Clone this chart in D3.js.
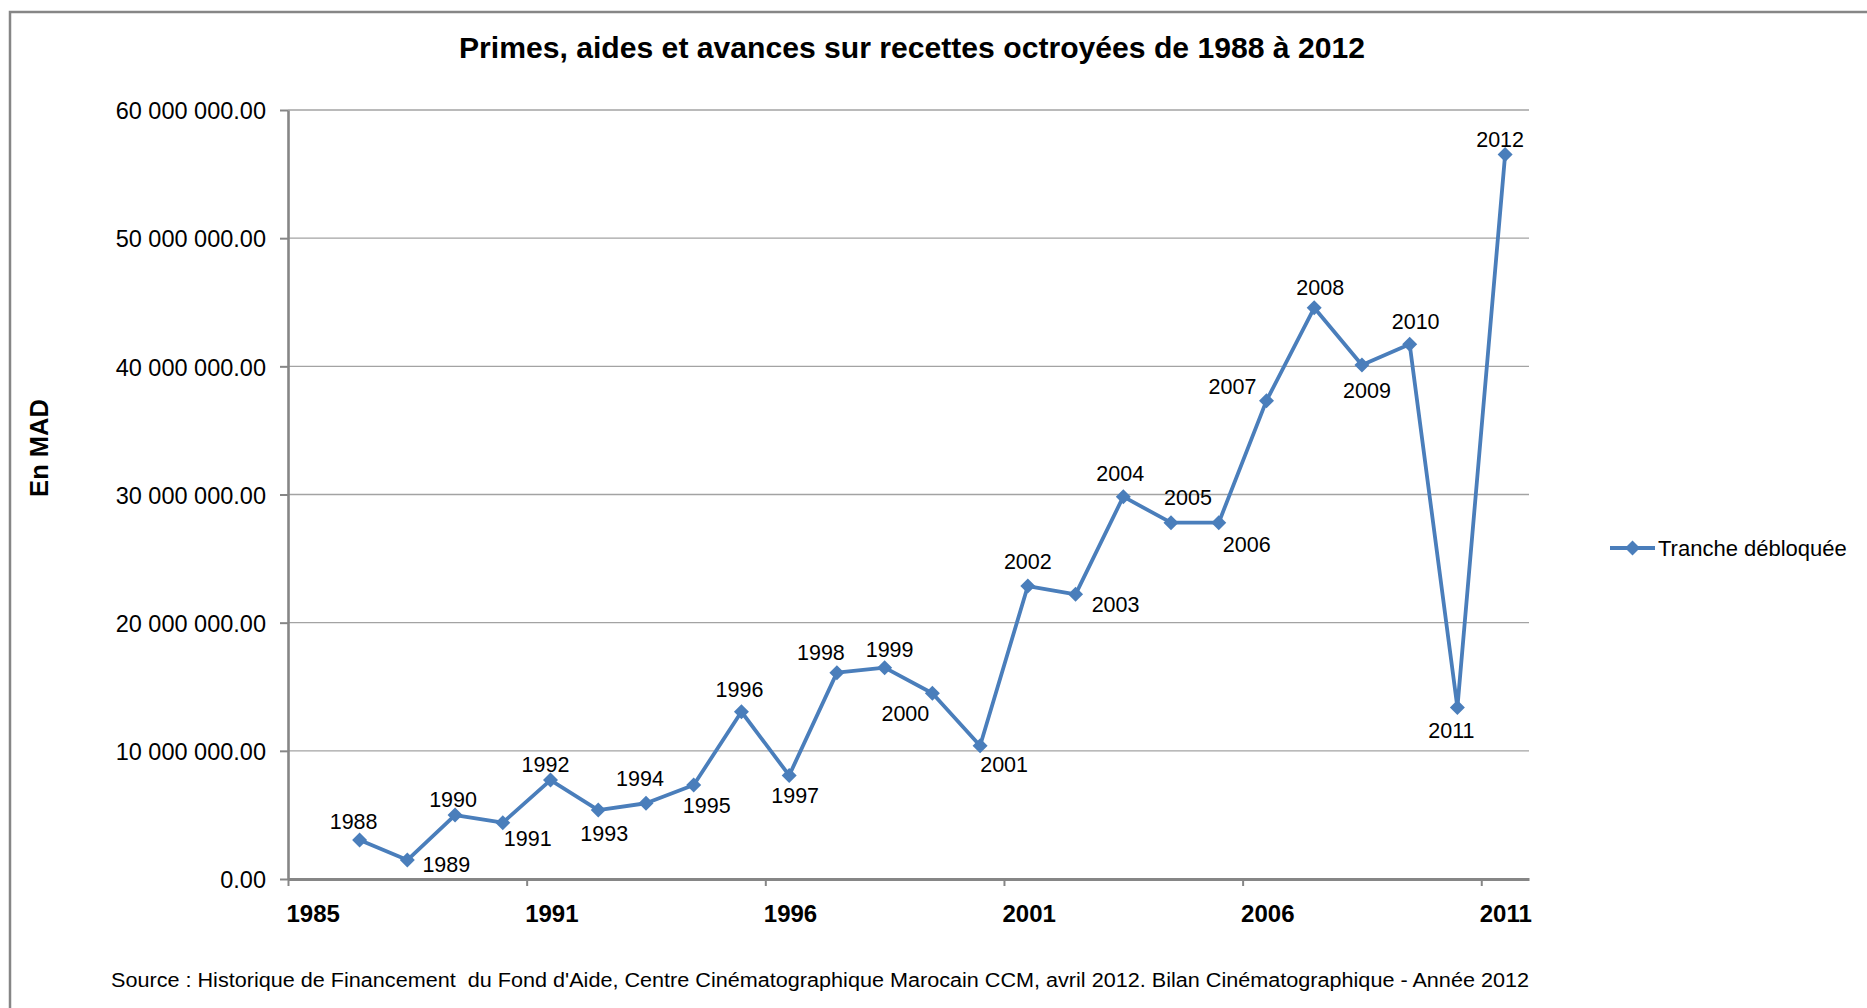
<!DOCTYPE html>
<html>
<head>
<meta charset="utf-8">
<script src="https://cdn.jsdelivr.net/npm/d3@7"></script>
<style>
  html, body { margin: 0; padding: 0; background: #fff; }
  svg { display: block; font-family: "Liberation Sans", Arial, sans-serif; }
</style>
</head>
<body>
<svg id="chart" width="1867" height="1008"></svg>
<script>
// Years of the series (also used as the point labels)
const years = [1988, 1989, 1990, 1991, 1992, 1993, 1994, 1995, 1996, 1997, 1998, 1999, 2000,
               2001, 2002, 2003, 2004, 2005, 2006, 2007, 2008, 2009, 2010, 2011, 2012];
// Tranche débloquée, in MAD
const amounts = [3040000, 1480000, 4990000, 4390000, 7720000, 5380000, 5910000, 7330000,
                 13050000, 8080000, 16100000, 16490000, 14490000, 10400000, 22860000,
                 22210000, 29830000, 27800000, 27800000, 37320000, 44570000, 40100000,
                 41720000, 13380000, 56530000];
// Horizontal axis tick labels and vertical axis ticks
const xTickLabels = ["1985", "1991", "1996", "2001", "2006", "2011"];
const yTickValues = [0, 10000000, 20000000, 30000000, 40000000, 50000000, 60000000];
const seriesName = "Tranche débloquée";

// Label placement around each marker: [dx to label centre, dy to baseline]
const labelNudge = [[-6,-11],[39,12],[-2,-8],[25,23],[-5,-8],[6,31],[-6,-17],[13,28],[-2,-15],
                    [6,28],[-16,-13],[5,-11],[-27,28],[24,26],[0,-17],[40,18],[-3,-16],[17,-18],
                    [28,29],[-34,-7],[6,-13],[5,33],[6,-15],[-6,30],[-5,-7]];

const blue = "#4a7ebb";
const axisGrey = "#868686";
const svg = d3.select("#chart");

// Outer chart frame
svg.append("rect")
  .attr("x", 10).attr("y", 12)
  .attr("width", 1900).attr("height", 1100)
  .attr("fill", "none").attr("stroke", axisGrey).attr("stroke-width", 2.5);

const plot = { left: 288, right: 1529, top: 110, bottom: 879 };

const x = d3.scaleLinear().domain([1986.5, 2012.5]).range([plot.left, plot.right]);
const y = d3.scaleLinear().domain([0, 60000000]).range([plot.bottom, plot.top]);

const fr = d3.formatLocale({ decimal: ".", thousands: " ", grouping: [3], currency: ["", ""] });
const yFmt = fr.format(",.2f");

// Gridlines
svg.append("g")
  .selectAll("line")
  .data(yTickValues.filter(v => v > 0))
  .join("line")
  .attr("x1", plot.left).attr("x2", plot.right)
  .attr("y1", d => y(d)).attr("y2", d => y(d))
  .attr("stroke", "#a3a3a3").attr("stroke-width", 1.4);

// Y axis
const yAxis = svg.append("g")
  .attr("transform", `translate(${plot.left},0)`)
  .call(d3.axisLeft(y).tickValues(yTickValues).tickFormat(yFmt).tickSizeOuter(0).tickSizeInner(8).tickPadding(14));
yAxis.select(".domain").attr("stroke", axisGrey).attr("stroke-width", 2.6);
yAxis.selectAll(".tick line").attr("stroke", axisGrey).attr("stroke-width", 2);
yAxis.selectAll(".tick text")
  .attr("font-size", "23.5px").attr("fill", "#000")
  .attr("font-family", "'Liberation Sans', Arial, sans-serif")
  .attr("dy", "0.37em");

// X axis
const xTickPos = d3.range(0, xTickLabels.length).map(i => 1986.5 + 5 * i);
const xAxis = svg.append("g")
  .attr("transform", `translate(0,${plot.bottom})`)
  .call(d3.axisBottom(x).tickValues(xTickPos).tickFormat((d, i) => xTickLabels[i])
        .tickSizeOuter(0).tickSizeInner(7).tickPadding(20));
xAxis.select(".domain").attr("stroke", axisGrey).attr("stroke-width", 3.2);
xAxis.selectAll(".tick line").attr("stroke", axisGrey).attr("stroke-width", 2);
xAxis.selectAll(".tick text")
  .attr("font-size", "24px").attr("font-weight", "bold").attr("fill", "#000")
  .attr("font-family", "'Liberation Sans', Arial, sans-serif")
  .attr("text-anchor", "start").attr("x", -2).attr("y", 0).attr("dy", 42.5);

// Series line
const pts = years.map((yr, i) => ({ yr, v: amounts[i], i }));
svg.append("path")
  .datum(pts)
  .attr("fill", "none")
  .attr("stroke", blue)
  .attr("stroke-width", 3.8)
  .attr("stroke-linejoin", "round")
  .attr("d", d3.line().x(d => x(d.yr)).y(d => y(d.v)));

const diamond = r => `M0,${-r}L${r},0L0,${r}L${-r},0Z`;

// Markers
svg.append("g")
  .selectAll("path")
  .data(pts)
  .join("path")
  .attr("d", diamond(7.5))
  .attr("transform", d => `translate(${x(d.yr)},${y(d.v)})`)
  .attr("fill", blue);

// Point labels (year)
svg.append("g")
  .selectAll("text")
  .data(pts)
  .join("text")
  .attr("x", d => x(d.yr) + labelNudge[d.i][0])
  .attr("y", d => y(d.v) + labelNudge[d.i][1])
  .attr("text-anchor", "middle")
  .attr("font-size", "21.5px")
  .attr("fill", "#000")
  .text(d => d.yr);

// Title
svg.append("text")
  .attr("x", 912).attr("y", 58)
  .attr("text-anchor", "middle")
  .attr("font-size", "29px").attr("font-weight", "bold")
  .attr("textLength", 906).attr("lengthAdjust", "spacingAndGlyphs")
  .text("Primes, aides et avances sur recettes octroyées de 1988 à 2012");

// Y axis title
svg.append("text")
  .attr("transform", "translate(48,448) rotate(-90)")
  .attr("text-anchor", "middle")
  .attr("font-size", "25.5px").attr("font-weight", "bold")
  .text("En MAD");

// Legend
const lg = svg.append("g").attr("transform", "translate(1610,548)");
lg.append("line").attr("x1", 0).attr("x2", 45).attr("y1", 0).attr("y2", 0)
  .attr("stroke", blue).attr("stroke-width", 3.8);
lg.append("path").attr("d", diamond(7.5)).attr("transform", "translate(22.5,0)").attr("fill", blue);
lg.append("text").attr("x", 48).attr("y", 7.5)
  .attr("font-size", "22px").attr("fill", "#000")
  .text(seriesName);

// Source note
svg.append("text")
  .attr("x", 1529).attr("y", 986.5)
  .attr("text-anchor", "end")
  .attr("font-size", "20px").attr("fill", "#000")
  .attr("textLength", 1418).attr("lengthAdjust", "spacingAndGlyphs")
  .attr("xml:space", "preserve")
  .text("Source : Historique de Financement  du Fond d'Aide, Centre Cinématographique Marocain CCM, avril 2012. Bilan Cinématographique - Année 2012");
</script>
</body>
</html>
